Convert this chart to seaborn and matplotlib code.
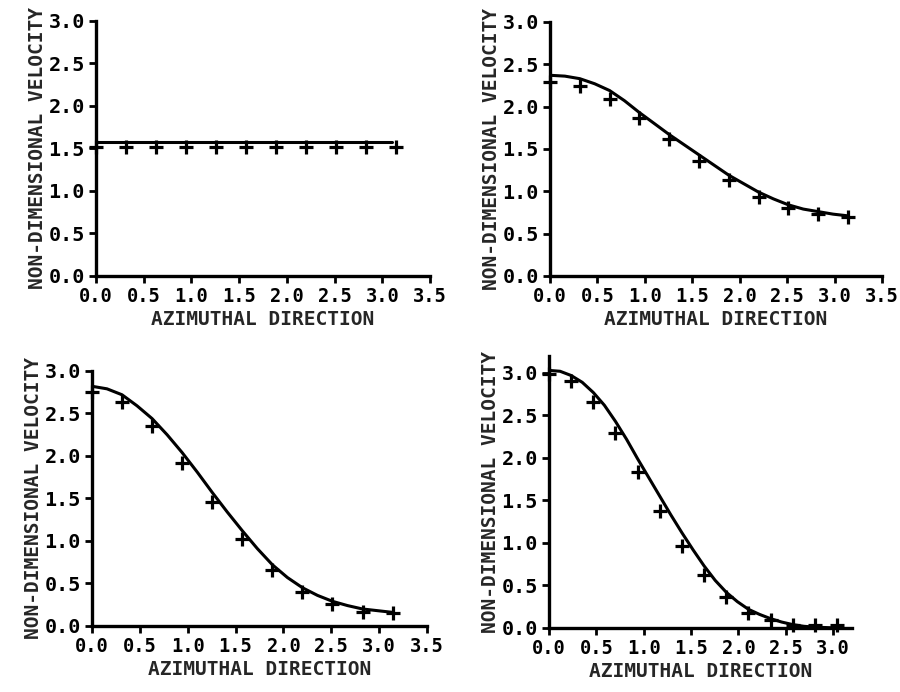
import matplotlib
matplotlib.use('Agg')
import matplotlib.pyplot as plt
import seaborn as sns
import pandas as pd

sns.set_style('ticks')
plt.rcParams['font.family'] = ['DejaVu Sans Mono', 'DejaVu Sans']
plt.rcParams['font.weight'] = 'bold'

# measured points (+), 11 stations from 0 to pi
x_meas = [0.0, 0.314, 0.628, 0.942, 1.257, 1.571, 1.885, 2.199, 2.513, 2.827, 3.142]
meas_a = [1.52, 1.52, 1.52, 1.52, 1.52, 1.52, 1.52, 1.52, 1.52, 1.52, 1.52]
meas_b = [2.29, 2.24, 2.09, 1.87, 1.62, 1.36, 1.13, 0.93, 0.80, 0.73, 0.70]
meas_c = [2.75, 2.64, 2.35, 1.92, 1.46, 1.02, 0.66, 0.40, 0.26, 0.17, 0.15]
# last panel: 14 stations
x_meas_d = [0.0, 0.234, 0.468, 0.702, 0.936, 1.170, 1.404, 1.638, 1.872, 2.106, 2.340, 2.574, 2.808, 3.042]
meas_d = [2.99, 2.91, 2.66, 2.29, 1.83, 1.38, 0.97, 0.62, 0.36, 0.18, 0.09, 0.04, 0.03, 0.03]

# computed curves
curve_a_x = [0.0, 3.1]
curve_a_y = [1.58, 1.58]
x_curve = [0.0, 0.157, 0.314, 0.471, 0.628, 0.785, 0.942, 1.100, 1.257, 1.414, 1.571,
           1.728, 1.885, 2.042, 2.199, 2.356, 2.513, 2.670, 2.827, 2.985, 3.142]
curve_b = [2.37, 2.36, 2.33, 2.27, 2.19, 2.07, 1.93, 1.80, 1.67, 1.55, 1.43,
           1.31, 1.19, 1.09, 0.99, 0.91, 0.84, 0.79, 0.76, 0.73, 0.71]
curve_c = [2.82, 2.79, 2.72, 2.59, 2.44, 2.25, 2.04, 1.81, 1.57, 1.34, 1.12,
           0.91, 0.72, 0.57, 0.45, 0.36, 0.29, 0.24, 0.20, 0.18, 0.16]
x_curve_d = [0.0, 0.117, 0.234, 0.351, 0.468, 0.585, 0.702, 0.819, 0.936, 1.053, 1.170,
             1.287, 1.404, 1.521, 1.638, 1.755, 1.872, 1.989, 2.106, 2.223, 2.340,
             2.457, 2.574, 2.691, 2.808, 2.925, 3.042]
curve_d = [3.03, 3.02, 2.97, 2.89, 2.77, 2.62, 2.43, 2.22, 1.99, 1.77, 1.55,
           1.33, 1.12, 0.92, 0.73, 0.56, 0.42, 0.31, 0.22, 0.16, 0.11,
           0.07, 0.04, 0.02, 0.01, 0.005, 0.0]

ticks = [0.0, 0.5, 1.0, 1.5, 2.0, 2.5, 3.0, 3.5]

fig = plt.figure(figsize=(9, 6.92), dpi=100)
positions = [
    [0.1067, 0.6012, 0.3711, 0.3685],
    [0.6111, 0.6012, 0.3689, 0.3671],
    [0.1022, 0.0954, 0.3722, 0.3685],
    [0.6100, 0.0925, 0.3367, 0.3931],
]
panels = [
    (curve_a_x, curve_a_y, x_meas, meas_a, 3.5, 3.0),
    (x_curve, curve_b, x_meas, meas_b, 3.5, 3.0),
    (x_curve, curve_c, x_meas, meas_c, 3.5, 3.0),
    (x_curve_d, curve_d, x_meas_d, meas_d, 3.2, 3.2),
]

for pos, (cx, cy, mx, my, xmax, ymax) in zip(positions, panels):
    ax = fig.add_axes(pos)
    sns.lineplot(x=cx, y=cy, ax=ax, color='black', linewidth=2.2)
    sns.scatterplot(x=mx, y=my, ax=ax, marker='+', s=110, color='black',
                    linewidth=2.3, clip_on=False, zorder=5)
    ax.set_xlim(0, xmax)
    ax.set_ylim(0, ymax)
    xt = [t for t in ticks if t <= xmax]
    yt = [t for t in ticks if t <= 3.0]
    ax.set_xticks(xt)
    ax.set_yticks(yt)
    ax.set_xticklabels([f'{t:.1f}' for t in xt])
    ax.set_yticklabels([f'{t:.1f}' for t in yt])
    sns.despine(ax=ax)
    for s in ['left', 'bottom']:
        ax.spines[s].set_linewidth(2.4)
        ax.spines[s].set_color('black')
    ax.tick_params(direction='out', length=5, width=2, color='black',
                   labelcolor='black', pad=3)
    ax.tick_params(axis='x', labelsize=13.5)
    ax.tick_params(axis='y', labelsize=14.5)
    for lab in ax.get_xticklabels() + ax.get_yticklabels():
        lab.set_fontweight('bold')
    ax.set_xlabel('AZIMUTHAL DIRECTION', fontsize=14, fontweight='bold', labelpad=3)
    ax.set_ylabel('NON-DIMENSIONAL VELOCITY', fontsize=14, fontweight='bold', labelpad=1)
    ax.patch.set_alpha(0)

plt.savefig('out.png', dpi=100)
